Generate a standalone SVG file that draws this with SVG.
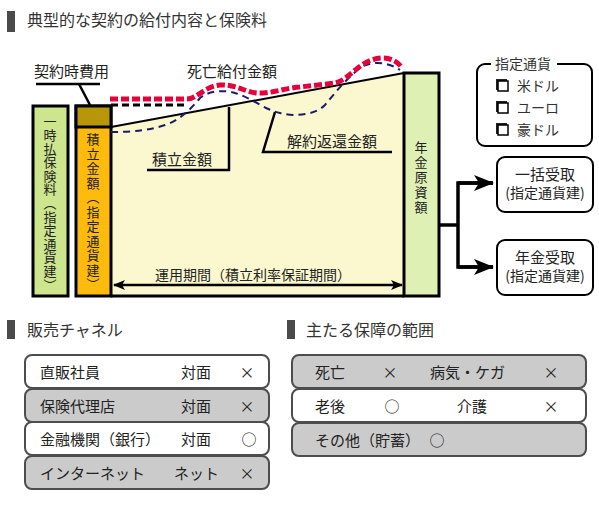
<svg xmlns="http://www.w3.org/2000/svg" width="599" height="510" viewBox="0 0 599 510">
<defs>
<style>
text{font-family:"Noto Sans CJK JP","Noto Sans CJK SC",sans-serif;fill:#222}
.t16{font-size:16px;fill:#333}
.t15{font-size:15px}
.t14{font-size:14px}
.vt{font-size:13px;writing-mode:vertical-rl}
.bar{fill:#4a4a4a}
.rw{fill:#fff;stroke:#4d4d4d;stroke-width:2}
.rg{fill:#cbcbcb;stroke:#4d4d4d;stroke-width:2}
.ln{fill:none;stroke:#000;stroke-width:2.5}
.box{fill:#fff;stroke:#000;stroke-width:2}
</style>
<marker id="ah" viewBox="0 0 12 10" refX="11" refY="5" markerWidth="12" markerHeight="10" markerUnits="userSpaceOnUse" orient="auto-start-reverse">
<path d="M0,0 L12,5 L0,10 L3,5 Z" fill="#000"/>
</marker>
<marker id="ab" viewBox="0 0 20 16" refX="19" refY="8" markerWidth="20" markerHeight="16" markerUnits="userSpaceOnUse" orient="auto">
<path d="M0,0 L20,8 L0,16 L5,8 Z" fill="#000"/>
</marker>
</defs>

<g id="title-main">
<rect class="bar" x="7" y="11" width="8" height="21"/>
<text class="t16" x="27" y="26">典型的な契約の給付内容と保険料</text>
</g>

<g id="yellow-area">
<polygon points="111,127 404,73 404,296 111,296" fill="#fbf8cf"/>
<line x1="111" y1="127" x2="404" y2="73" stroke="#000" stroke-width="2"/>
<line x1="111" y1="296" x2="404" y2="296" stroke="#000" stroke-width="3"/>
</g>

<g id="ichiji">
<rect x="33" y="106" width="35" height="190" fill="#cde68e" stroke="#000" stroke-width="3"/>
<text class="vt" x="50" y="115" style="letter-spacing:0.6px">一時払保険料（指定通貨建）</text>
</g>

<g id="tsumitate">
<rect x="76" y="106" width="35" height="190" fill="#ffbb0d" stroke="#000" stroke-width="3"/>
<rect x="76" y="106" width="35" height="21" fill="#b8960a" stroke="#000" stroke-width="3"/>
<text class="vt" x="93" y="133" style="letter-spacing:1.5px">積立金額（指定通貨建）</text>
</g>

<g id="nenkin-genshi">
<rect x="404" y="73" width="35" height="223" fill="#dff0b5" stroke="#000" stroke-width="3"/>
<text class="vt" x="421" y="141" style="letter-spacing:2px">年金原資額</text>
</g>

<g id="labels">
<text class="t15" x="34" y="77">契約時費用</text>
<text class="t15" x="187" y="77">死亡給付金額</text>
<text class="t15" x="152" y="165">積立金額</text>
<text class="t15" x="287" y="147">解約返還金額</text>
<text class="t14" x="155" y="280">運用期間（積立利率保証期間）</text>
</g>

<g id="connectors">
<polyline class="ln" points="36,84 100,84"/>
<line class="ln" x1="79" y1="84" x2="90" y2="105"/>
<polyline class="ln" points="229,107 229,170 147,170"/>
<polyline class="ln" points="275,112 263,152 392,152"/>
<path d="M111,105 L188,105" fill="none" stroke="#000" stroke-width="3" stroke-dasharray="7 4"/>
<path d="M111,132 C135,132 150,130 165,125 C180,120 190,110 200,98 C210,90 225,90 235,93 C250,97 265,110 280,113 C295,117 315,115 325,105 C335,93 345,80 360,68 C372,60 388,62 400,70" fill="none" stroke="#1a1a6a" stroke-width="2" stroke-dasharray="7 5"/>
<path d="M110,99 L187,99 C197,99 205,86 220,85 C235,84 245,92 257,93 C270,94 285,88 300,87 L335,83 C350,80 360,58 383,58 C393,58 400,64 402,68" fill="none" stroke="#e8003a" stroke-width="5" stroke-dasharray="8 3"/>
<line x1="114" y1="285" x2="402" y2="285" stroke="#000" stroke-width="2.5" marker-start="url(#ah)" marker-end="url(#ah)"/>
<polyline points="440,225 458,225" fill="none" stroke="#000" stroke-width="3.5"/>
<polyline points="493,183 458,183 458,267 493,267" fill="none" stroke="#000" stroke-width="3.5"/>
<line x1="458" y1="183" x2="493" y2="183" stroke="#000" stroke-width="3.5" marker-end="url(#ab)"/>
<line x1="458" y1="267" x2="493" y2="267" stroke="#000" stroke-width="3.5" marker-end="url(#ab)"/>
</g>

<g id="legend">
<rect x="477" y="64" width="115" height="82" rx="8" fill="#fff" stroke="#000" stroke-width="2"/>
<rect x="491" y="58" width="66" height="12" fill="#fff"/>
<text class="t14" x="495" y="69" style="fill:#333">指定通貨</text>
<g fill="#fff" stroke="#000">
<rect x="496" y="79" width="11" height="11" fill="#222" stroke="none"/><rect x="498" y="81" width="10" height="10" stroke-width="1.5"/>
<rect x="496" y="101" width="11" height="11" fill="#222" stroke="none"/><rect x="498" y="103" width="10" height="10" stroke-width="1.5"/>
<rect x="496" y="123" width="11" height="11" fill="#222" stroke="none"/><rect x="498" y="125" width="10" height="10" stroke-width="1.5"/>
</g>
<text class="t14" x="517" y="91" style="fill:#333">米ドル</text>
<text class="t14" x="517" y="113" style="fill:#333">ユーロ</text>
<text class="t14" x="517" y="135" style="fill:#333">豪ドル</text>
</g>

<g id="ikkatsu">
<rect class="box" x="497" y="157" width="96" height="55" rx="8"/>
<text class="t15" x="545" y="180" text-anchor="middle">一括受取</text>
<text class="t14" x="545" y="198" text-anchor="middle">(指定通貨建)</text>
</g>

<g id="nenkin-uketori">
<rect class="box" x="497" y="240" width="96" height="55" rx="8"/>
<text class="t15" x="545" y="263" text-anchor="middle">年金受取</text>
<text class="t14" x="545" y="281" text-anchor="middle">(指定通貨建)</text>
</g>

<g id="title-channel">
<rect class="bar" x="7" y="320" width="8" height="19"/>
<text class="t16" x="27" y="336">販売チャネル</text>
</g>

<g id="channel-rows">
<rect class="rw" x="25" y="355" width="244" height="33" rx="7"/>
<rect class="rg" x="25" y="389" width="244" height="33" rx="7"/>
<rect class="rw" x="25" y="422" width="244" height="33" rx="7"/>
<rect class="rg" x="25" y="456" width="244" height="33" rx="7"/>
<text class="t15" x="40" y="378">直販社員</text><text class="t15" x="181" y="378">対面</text><text class="t15" x="247" y="378" text-anchor="middle">×</text>
<text class="t15" x="40" y="412">保険代理店</text><text class="t15" x="181" y="412">対面</text><text class="t15" x="247" y="412" text-anchor="middle">×</text>
<text class="t15" x="40" y="445">金融機関（銀行）</text><text class="t15" x="181" y="445">対面</text><text class="t15" x="249" y="445" text-anchor="middle">○</text>
<text class="t15" x="40" y="479">インターネット</text><text class="t15" x="174" y="479">ネット</text><text class="t15" x="247" y="479" text-anchor="middle">×</text>
</g>

<g id="title-coverage">
<rect class="bar" x="287" y="320" width="8" height="19"/>
<text class="t16" x="306" y="336">主たる保障の範囲</text>
</g>

<g id="coverage-rows">
<rect class="rg" x="292" y="355" width="294" height="33" rx="7"/>
<rect class="rw" x="292" y="389" width="294" height="33" rx="7"/>
<rect class="rg" x="292" y="423" width="294" height="33" rx="7"/>
<text class="t15" x="315" y="378">死亡</text><text class="t15" x="390" y="378" text-anchor="middle">×</text>
<text class="t15" x="430" y="378">病気・ケガ</text><text class="t15" x="551" y="378" text-anchor="middle">×</text>
<text class="t15" x="315" y="412">老後</text><text class="t15" x="392" y="412" text-anchor="middle">○</text>
<text class="t15" x="457" y="412">介護</text><text class="t15" x="551" y="412" text-anchor="middle">×</text>
<text class="t15" x="315" y="446">その他（貯蓄）</text><text class="t15" x="437" y="446" text-anchor="middle">○</text>
</g>
</svg>
